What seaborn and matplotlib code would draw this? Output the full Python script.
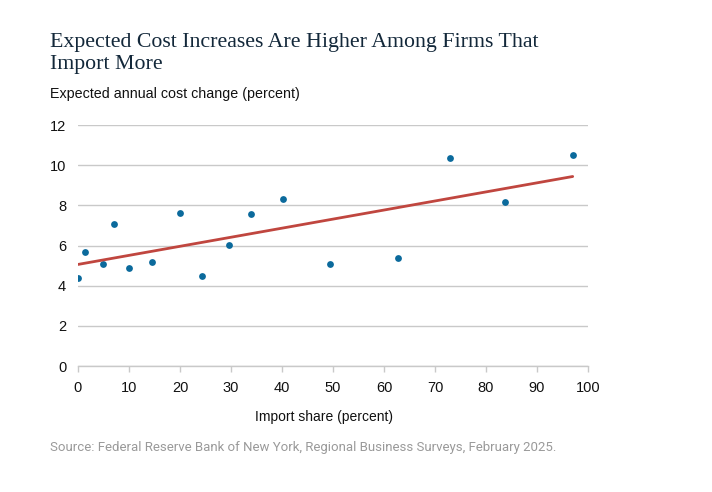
import matplotlib
matplotlib.use("Agg")
import matplotlib.pyplot as plt
import seaborn as sns
import pandas as pd

import_share = [0.0, 1.4, 4.85, 7.0, 10.0, 14.5, 20.0, 24.4, 29.7, 33.9, 40.2, 49.4, 62.7, 72.9, 83.8, 97.0]
cost_change = [4.38, 5.69, 5.08, 7.09, 4.87, 5.19, 7.63, 4.50, 6.01, 7.57, 8.30, 5.06, 5.39, 10.36, 8.18, 10.52]
x_ticks = [0, 10, 20, 30, 40, 50, 60, 70, 80, 90, 100]
y_ticks = [0, 2, 4, 6, 8, 10, 12]

df = pd.DataFrame({"x": import_share, "y": cost_change})

sns.set_theme(style="white")
plt.rcParams['font.family'] = ['Liberation Sans', 'DejaVu Sans']

W, H = 712, 492
fig = plt.figure(figsize=(W / 100, H / 100), dpi=100)
ax = fig.add_axes([78 / W, (H - 366) / H, 510 / W, 241 / H])

sns.regplot(data=df, x="x", y="y", ax=ax, ci=None, truncate=True,
            scatter_kws=dict(color="#0b6a9c", s=24, linewidths=0, alpha=1, zorder=3),
            line_kws=dict(color="#c0463f", lw=2.0, zorder=4))

ax.set_xlim(0, 100)
ax.set_ylim(0, 12)
ax.set_xticks(x_ticks)
ax.set_yticks(y_ticks)
ax.set_xlabel("")
ax.set_ylabel("")
ax.yaxis.grid(True, color="#c9c9c9", lw=1.0)
ax.xaxis.grid(False)
ax.set_axisbelow(True)
for s in ["top", "right", "left"]:
    ax.spines[s].set_visible(False)
ax.spines["bottom"].set_color("#c9c9c9")
ax.spines["bottom"].set_linewidth(1.0)
ax.tick_params(axis="x", length=4.5, width=1.0, color="#c9c9c9", direction="out",
               bottom=True, labelsize=10.5, pad=6, labelcolor="#111111")
ax.tick_params(axis="y", length=0, labelsize=10.5, pad=8.5, labelcolor="#111111")

serif = ["Liberation Serif", "DejaVu Serif"]
fig.text(50 / W, 1 - 47.5 / H, "Expected Cost Increases Are Higher Among Firms That",
         family=serif, fontsize=15.75, color="#13283a", va="baseline", ha="left")
fig.text(50 / W, 1 - 69 / H, "Import More",
         family=serif, fontsize=15.75, color="#13283a", va="baseline", ha="left")
fig.text(50 / W, 1 - 94 / H, "Expected annual cost change (percent)", fontsize=10.3,
         color="#111111", va="center", ha="left")
fig.text(324 / W, 1 - 417 / H, "Import share (percent)", fontsize=10,
         color="#111111", va="center", ha="center")
fig.text(50 / W, 1 - 447 / H,
         "Source: Federal Reserve Bank of New York, Regional Business Surveys, February 2025.",
         family=["Roboto", "DejaVu Sans"], fontsize=9.5, color="#9a9a9a", va="center", ha="left")

fig.savefig("out.png", dpi=100)
